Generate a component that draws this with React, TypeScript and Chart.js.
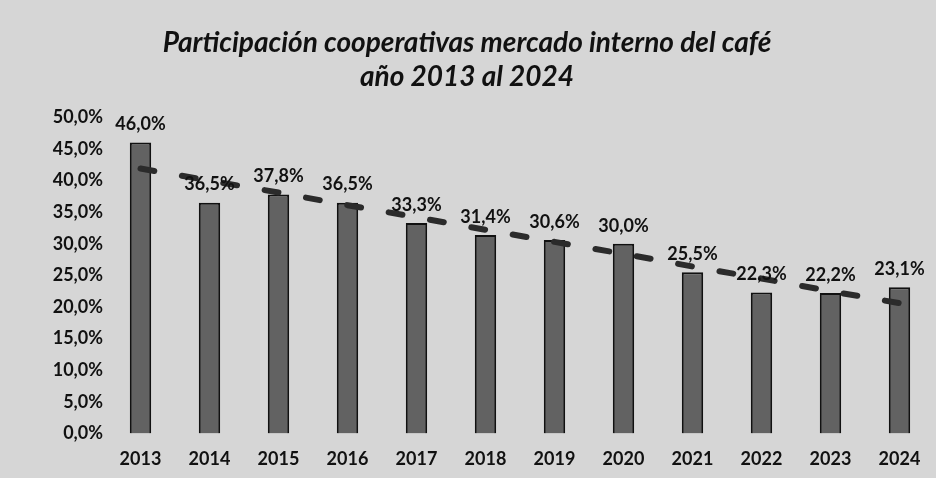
import React, { useEffect, useRef } from "react";
import { Chart, registerables } from "chart.js";

Chart.register(...registerables);

const titleLines = ["Participación cooperativas mercado interno del café", "año 2013 al 2024"];
const years = ["2013", "2014", "2015", "2016", "2017", "2018", "2019", "2020", "2021", "2022", "2023", "2024"];
const participation = [46.0, 36.5, 37.8, 36.5, 33.3, 31.4, 30.6, 30.0, 25.5, 22.3, 22.2, 23.1];
const trendValues = [41.9, 40.0, 38.1, 36.1, 34.2, 32.2, 30.3, 28.4, 26.4, 24.5, 22.5, 20.6];
const yMin = 0;
const yMax = 50;
const yStep = 5;

const fmt = (v: number) => v.toFixed(1).replace(".", ",") + "%";

const valueLabels = {
  id: "valueLabels",
  afterDatasetsDraw(chart: any) {
    const ctx = chart.ctx;
    const meta = chart.getDatasetMeta(0);
    ctx.save();
    ctx.font = "bold 18px Lato";
    ctx.fillStyle = "#111";
    ctx.textAlign = "center";
    ctx.textBaseline = "bottom";
    meta.data.forEach((el: any, i: number) => {
      ctx.fillText(fmt(participation[i]), el.x, el.y - 9);
    });
    ctx.restore();
  },
};

export default function App() {
  const ref = useRef<HTMLCanvasElement | null>(null);
  useEffect(() => {
    document.body.style.margin = "0";
    const chart = new Chart(ref.current!, {
      type: "bar",
      data: {
        labels: years,
        datasets: [
          {
            type: "bar",
            data: participation,
            backgroundColor: "#626262",
            borderColor: "#111",
            borderWidth: 2,
            barPercentage: 0.31,
            categoryPercentage: 1,
            order: 1,
          } as any,
          {
            type: "line",
            data: trendValues,
            borderColor: "#2b2b2b",
            borderWidth: 6,
            borderDash: [14, 28],
            borderCapStyle: "round",
            pointRadius: 0,
            fill: false,
            order: 0,
          } as any,
        ],
      },
      options: {
        animation: false,
        responsive: false,
        layout: { padding: { top: 22, right: 2, bottom: -7, left: 0 } },
        plugins: {
          legend: { display: false },
          tooltip: { enabled: false },
          title: {
            display: true,
            text: titleLines,
            color: "#111",
            font: { family: "Lato", size: 28, weight: "bold", style: "italic", lineHeight: 1.22 },
            padding: { top: 4, bottom: 23 },
          },
        },
        scales: {
          x: {
            grid: { display: false, drawTicks: false },
            border: { display: false },
            ticks: { color: "#111", font: { family: "Lato", size: 18, weight: "bold" }, padding: 15 },
          },
          y: {
            min: yMin,
            max: yMax,
            grid: { display: false, drawTicks: false },
            border: { display: false },
            afterFit: (s: any) => {
              s.width = 106;
            },
            ticks: {
              stepSize: yStep,
              color: "#111",
              font: { family: "Lato", size: 18, weight: "bold" },
              padding: 3,
              callback: (v: any) => fmt(Number(v)),
            },
          },
        },
      },
      plugins: [valueLabels],
    });
    return () => chart.destroy();
  }, []);
  return (
    <div style={{ width: 936, height: 478, background: "#d6d6d6" }}>
      <canvas ref={ref} width={936} height={478} />
    </div>
  );
}
